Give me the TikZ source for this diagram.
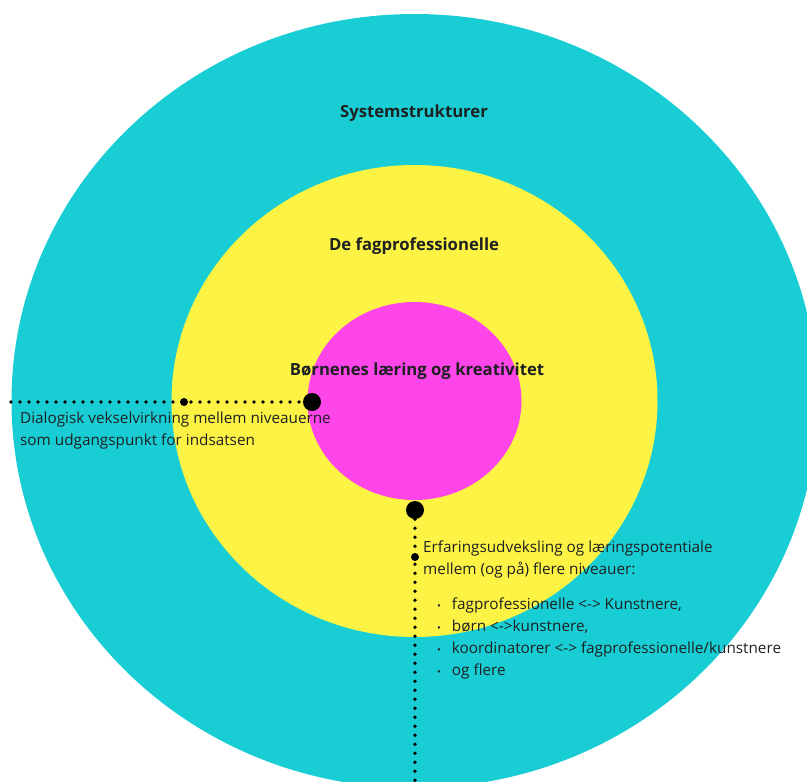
\documentclass[tikz,border=0pt]{standalone}
\usepackage{fontspec}
\setmainfont{Open Sans}
\definecolor{sysCyan}{RGB}{24,206,212}
\definecolor{fagYellow}{RGB}{253,243,69}
\definecolor{barnMagenta}{RGB}{253,69,234}
\definecolor{inkGray}{RGB}{30,32,34}
\tikzset{
  dotline/.style={line width=3.8pt, line cap=round, dash pattern=on 0pt off 9pt},
  bigdot/.style={circle, fill=black, inner sep=0pt, minimum size=18pt},
  smalldot/.style={circle, fill=black, inner sep=0pt, minimum size=8pt},
  levellabel/.style={font=\fontsize{16.7}{20}\selectfont\bfseries, text=inkGray},
  bodytext/.style={font=\fontsize{15.3}{22}\selectfont, align=left, inner sep=0pt, anchor=north west, text=inkGray}
}
\begin{document}
\begin{tikzpicture}[x=1pt,y=-1pt]
    \useasboundingbox (0,0) rectangle (807,782);
    \coordinate (Centre) at (414.5,401);
    \fill [sysCyan] (Centre) ellipse [x radius=403, y radius=387];% Systemstrukturer
    \fill [fagYellow] (Centre) ellipse [x radius=243, y radius=236];% De fagprofessionelle
    \fill [barnMagenta] (Centre) ellipse [x radius=107, y radius=99];% Boernene
    \node [levellabel] (SysLabel)  at (414,113) {Systemstrukturer};
    \node [levellabel] (FagLabel)  at (414,246) {De fagprofessionelle};
    \node [levellabel] (BarnLabel) at (417,371) {Børnenes læring og kreativitet};
    % dialog line to the left
    \coordinate (DialogEnd) at (11,402);
    \node [bigdot]   (DialogDot)   at (312,402) {};
    \node [smalldot] (DialogSmall) at (184,402) {};
    \draw [dotline] (DialogEnd) -- (DialogDot);
    \node [bodytext] (DialogText) at (20,412) {Dialogisk vekselvirkning mellem niveauerne\\som udgangspunkt for indsatsen};
    % erfaring line downwards
    \coordinate (ErfEnd) at (415,782);
    \node [bigdot]   (ErfDot)   at (415,510) {};
    \node [smalldot] (ErfSmall) at (415,557) {};
    \draw [dotline] (ErfDot) -- (ErfEnd);
    \node [bodytext] (ErfText) at (423,541) {Erfaringsudveksling og læringspotentiale\\mellem (og på) flere niveauer:};
    \node [bodytext] (ErfList) at (437,594) {%
      \begin{tabular}{@{}l@{\hspace{11pt}}l@{}}
      {\fontsize{10}{10}\selectfont •} & fagprofessionelle <-> Kunstnere,\\
      {\fontsize{10}{10}\selectfont •} & børn <->kunstnere,\\
      {\fontsize{10}{10}\selectfont •} & koordinatorer <-> fagprofessionelle/kunstnere\\
      {\fontsize{10}{10}\selectfont •} & og flere
      \end{tabular}};
\end{tikzpicture}
\end{document}
